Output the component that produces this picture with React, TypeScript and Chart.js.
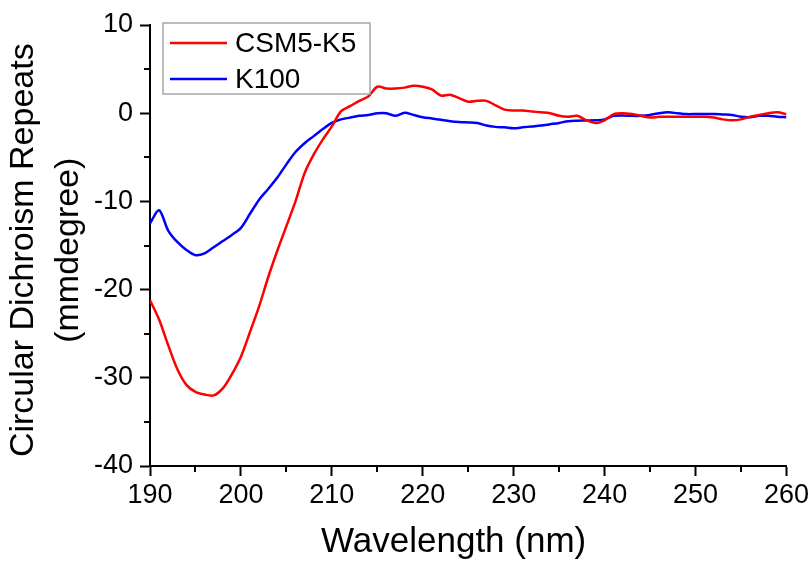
import React, { useEffect, useRef } from "react";
import { Chart, registerables } from "chart.js";

Chart.register(...registerables);

const wavelengths: number[] = [
  190, 191, 192, 193, 194, 195, 196, 197, 198, 199,
  200, 201, 202, 203, 204, 205, 206, 207, 208, 209,
  210, 211, 212, 213, 214, 215, 216, 217, 218, 219,
  220, 221, 222, 223, 224, 225, 226, 227, 228, 229,
  230, 231, 232, 233, 234, 235, 236, 237, 238, 239,
  240, 241, 242, 243, 244, 245, 246, 247, 248, 249,
  250, 251, 252, 253, 254, 255, 256, 257, 258, 259, 260,
];

const csm5k5: number[] = [
  -21.2, -23.4, -26.3, -29.0, -30.8, -31.6, -31.9, -32.0, -31.2, -29.6,
  -27.6, -24.8, -21.9, -18.6, -15.6, -12.8, -10.0, -6.8, -4.7, -3.0,
  -1.5, 0.2, 0.8, 1.4, 1.9, 3.0, 2.8, 2.8, 2.9, 3.1,
  3.0, 2.7, 2.0, 2.1, 1.7, 1.3, 1.4, 1.4, 0.9, 0.4,
  0.3, 0.3, 0.2, 0.1, 0.0, -0.3, -0.4, -0.3, -0.8, -1.1,
  -0.8, -0.1, 0.0, -0.1, -0.3, -0.5, -0.4, -0.4, -0.4, -0.4,
  -0.4, -0.4, -0.5, -0.7, -0.8, -0.7, -0.4, -0.2, 0.0, 0.1, -0.1,
];

const k100: number[] = [
  -12.5, -11.0, -13.3, -14.6, -15.5, -16.1, -15.9, -15.2, -14.5, -13.8,
  -13.0, -11.4, -9.8, -8.6, -7.3, -5.8, -4.4, -3.4, -2.6, -1.8,
  -1.1, -0.7, -0.5, -0.3, -0.2, 0.0, 0.0, -0.3, 0.05, -0.2,
  -0.45, -0.6, -0.75, -0.9, -1.0, -1.05, -1.1, -1.4, -1.55, -1.6,
  -1.7, -1.6, -1.5, -1.4, -1.25, -1.1, -0.9, -0.85, -0.83, -0.8,
  -0.7, -0.3, -0.25, -0.3, -0.3, -0.2, 0.0, 0.1, 0.0, -0.1,
  -0.1, -0.1, -0.1, -0.15, -0.2, -0.4, -0.45, -0.3, -0.3, -0.4, -0.45,
];

const seriesNames: string[] = ["CSM5-K5", "K100"];
const seriesColors: string[] = ["#ff0000", "#0000ff"];
const xTitle = "Wavelength (nm)   ";
const yTitle: string[] = ["Circular Dichroism Repeats ", "(mmdegree) "];
const xMinorTicks: number[] = [195, 205, 215, 225, 235, 245, 255];
const yMinorTicks: number[] = [5, -5, -15, -25, -35];

const FONT = "'Liberation Sans', Arial, sans-serif";

const minorTickPlugin = {
  id: "minorTicks",
  afterDraw(chart: any) {
    const ctx = chart.ctx;
    const xs = chart.scales.x;
    const ys = chart.scales.y;
    const area = chart.chartArea;
    ctx.save();
    ctx.strokeStyle = "#000";
    ctx.lineWidth = 2;
    ctx.beginPath();
    xMinorTicks.forEach((v) => {
      const px = Math.round(xs.getPixelForValue(v));
      ctx.moveTo(px, area.bottom);
      ctx.lineTo(px, area.bottom + 6);
    });
    yMinorTicks.forEach((v) => {
      const py = Math.round(ys.getPixelForValue(v));
      ctx.moveTo(area.left, py);
      ctx.lineTo(area.left - 6, py);
    });
    ctx.stroke();
    ctx.restore();
  },
};

const legendPlugin = {
  id: "insetLegend",
  afterDraw(chart: any) {
    const ctx = chart.ctx;
    const bx = 163, by = 23, bw = 207, bh = 71;
    ctx.save();
    ctx.fillStyle = "#ffffff";
    ctx.fillRect(bx, by, bw, bh);
    ctx.strokeStyle = "#a6a6a6";
    ctx.lineWidth = 1.5;
    ctx.strokeRect(bx, by, bw, bh);
    const rows = [43, 79];
    chart.data.datasets.forEach((ds: any, i: number) => {
      const y = rows[i];
      ctx.strokeStyle = ds.borderColor;
      ctx.lineWidth = 2.5;
      ctx.beginPath();
      ctx.moveTo(170, y);
      ctx.lineTo(227, y);
      ctx.stroke();
      ctx.fillStyle = "#000000";
      ctx.font = `28px ${FONT}`;
      ctx.textBaseline = "middle";
      ctx.textAlign = "left";
      ctx.fillText(ds.label, 235, y + 1);
    });
    ctx.restore();
  },
};

const majorOnly = (ctx: any) =>
  ctx.tick && Number(ctx.tick.value) % 10 === 0 ? "#000" : "rgba(0,0,0,0)";

export default function App() {
  const canvasRef = useRef<HTMLCanvasElement | null>(null);

  useEffect(() => {
    if (!canvasRef.current) return;
    const mk = (ys: number[]) => wavelengths.map((x, i) => ({ x, y: ys[i] }));
    const chart = new Chart(canvasRef.current, {
      type: "line",
      data: {
        datasets: [
          {
            label: seriesNames[0],
            data: mk(csm5k5),
            borderColor: seriesColors[0],
            borderWidth: 2.5,
            pointRadius: 0,
            tension: 0.3,
            fill: false,
          },
          {
            label: seriesNames[1],
            data: mk(k100),
            borderColor: seriesColors[1],
            borderWidth: 2.5,
            pointRadius: 0,
            tension: 0.3,
            fill: false,
          },
        ],
      },
      options: {
        animation: false,
        responsive: false,
        devicePixelRatio: 1,
        layout: { padding: { top: 25, right: 25, bottom: 0, left: 0 } },
        plugins: {
          legend: { display: false },
          tooltip: { enabled: false },
        },
        scales: {
          x: {
            type: "linear",
            min: 190,
            max: 260,
            afterFit: (s: any) => {
              s.height = 97;
            },
            border: { display: true, color: "#000", width: 2 },
            grid: {
              drawOnChartArea: false,
              drawTicks: true,
              tickLength: 10,
              tickColor: majorOnly,
              tickWidth: 2,
            },
            ticks: {
              stepSize: 5,
              autoSkip: false,
              maxRotation: 0,
              padding: 3,
              color: "#000",
              font: { family: FONT, size: 27 },
              callback: (v: any) => (Number(v) % 10 === 0 ? String(v) : ""),
            },
            title: {
              display: true,
              text: xTitle,
              color: "#000",
              font: { family: FONT, size: 35 },
              padding: { top: 0, bottom: 0 },
            },
          },
          y: {
            type: "linear",
            min: -40,
            max: 10,
            afterFit: (s: any) => {
              s.width = 150;
            },
            border: { display: true, color: "#000", width: 2 },
            grid: {
              drawOnChartArea: false,
              drawTicks: true,
              tickLength: 10,
              tickColor: majorOnly,
              tickWidth: 2,
            },
            ticks: {
              stepSize: 5,
              autoSkip: false,
              padding: 7,
              color: "#000",
              font: { family: FONT, size: 27 },
              callback: (v: any) => (Number(v) % 10 === 0 ? String(v) : ""),
            },
            title: {
              display: true,
              text: yTitle,
              color: "#000",
              font: { family: FONT, size: 34, lineHeight: 1.3 },
              padding: { top: 2, bottom: 0 },
            },
          },
        },
      },
      plugins: [minorTickPlugin, legendPlugin],
    } as any);
    return () => chart.destroy();
  }, []);

  return (
    <div style={{ position: "fixed", left: 0, top: 0, width: 812, height: 563, background: "#fff" }}>
      <canvas ref={canvasRef} width={812} height={563} />
    </div>
  );
}
